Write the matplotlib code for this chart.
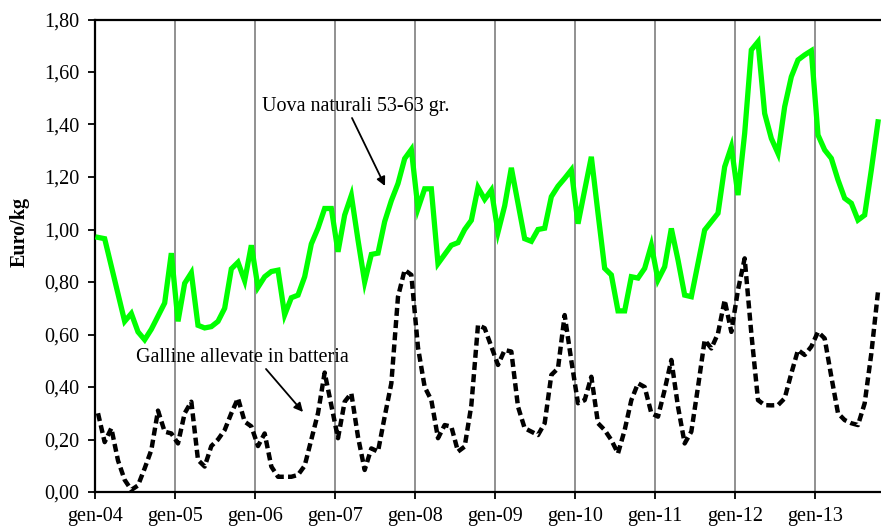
import matplotlib
matplotlib.use("Agg")
import matplotlib.pyplot as plt
from matplotlib.ticker import FuncFormatter

plt.rcParams['font.family'] = ['Liberation Serif', 'DejaVu Serif']

tick_labels = ["gen-04", "gen-05", "gen-06", "gen-07", "gen-08",
               "gen-09", "gen-10", "gen-11", "gen-12", "gen-13"]

uova = [
    0.97, 0.965, 0.86, 0.755, 0.65, 0.68, 0.61, 0.58, 0.62, 0.67, 0.72, 0.91,
    0.65, 0.795, 0.835, 0.635, 0.625, 0.63, 0.65, 0.70, 0.85, 0.875, 0.805, 0.94,
    0.78, 0.82, 0.84, 0.845, 0.675, 0.74, 0.75, 0.82, 0.945, 1.005, 1.08, 1.08,
    0.915, 1.055, 1.13, 0.96, 0.80, 0.905, 0.91, 1.03, 1.11, 1.175, 1.27, 1.305,
    1.08, 1.155, 1.155, 0.87, 0.905, 0.94, 0.95, 1.0, 1.035, 1.16, 1.115, 1.15,
    0.99, 1.09, 1.235, 1.10, 0.965, 0.955, 1.0, 1.005, 1.125, 1.165, 1.195, 1.227,
    1.022, 1.15, 1.277, 1.062, 0.852, 0.827, 0.69, 0.69, 0.82, 0.815, 0.852, 0.94,
    0.808, 0.858, 1.004, 0.884, 0.75, 0.744, 0.871, 0.998, 1.03, 1.062, 1.239, 1.315,
    1.131, 1.366, 1.684, 1.715, 1.442, 1.347, 1.29, 1.468, 1.582, 1.646, 1.665, 1.681,
    1.36, 1.303, 1.271, 1.189, 1.119, 1.10, 1.036, 1.055, 1.227, 1.41,
]

galline = [
    0.30, 0.19, 0.243, 0.12, 0.046, 0.008, 0.025, 0.09, 0.16, 0.31, 0.23, 0.223,
    0.185, 0.30, 0.344, 0.122, 0.097, 0.175, 0.20, 0.236, 0.30, 0.357, 0.268, 0.25,
    0.175, 0.223, 0.097, 0.058, 0.058, 0.058, 0.065, 0.10, 0.20, 0.30, 0.455, 0.33,
    0.205, 0.344, 0.376, 0.21, 0.084, 0.166, 0.154, 0.287, 0.414, 0.744, 0.846, 0.827,
    0.55, 0.40, 0.35, 0.205, 0.255, 0.249, 0.154, 0.173, 0.33, 0.636, 0.624, 0.554,
    0.484, 0.541, 0.535, 0.325, 0.243, 0.23, 0.217, 0.262, 0.446, 0.471, 0.674, 0.50,
    0.338, 0.35, 0.439, 0.262, 0.236, 0.198, 0.147, 0.236, 0.35, 0.414, 0.40, 0.30,
    0.287, 0.389, 0.503, 0.325, 0.185, 0.23, 0.40, 0.579, 0.547, 0.604, 0.731, 0.61,
    0.77, 0.89, 0.604, 0.35, 0.331, 0.33, 0.331, 0.357, 0.452, 0.541, 0.522, 0.554,
    0.61, 0.585, 0.439, 0.30, 0.274, 0.262, 0.255, 0.338, 0.528, 0.763,
]

W, H = 881, 526
fig = plt.figure(figsize=(W / 100, H / 100), dpi=100)
ax = fig.add_axes([95 / W, 1 - 492 / H, 786 / W, (492 - 19.5) / H])

x = [i + 0.45 for i in range(len(uova))]
ax.plot(x, uova, color='#00FF00', lw=3.8, solid_joinstyle='miter', zorder=3)
ax.plot(x, galline, color='black', lw=3.2, linestyle=(0, (1.8, 0.95)),
        dash_capstyle='butt', zorder=3)

ax.set_xlim(0, 786 / (80 / 12))
ax.set_ylim(0, 1.8)

xt = [12 * k for k in range(len(tick_labels))]
ax.set_xticks(xt)
ax.set_xticklabels(tick_labels)
for v in xt[1:]:
    ax.axvline(v, color='#888888', lw=1.3, zorder=1)

ax.set_yticks([0.2 * k for k in range(10)])
ax.yaxis.set_major_formatter(FuncFormatter(lambda v, p: f"{v:.2f}".replace('.', ',')))

ax.tick_params(axis='both', direction='out', length=5, width=1.3, labelsize=14.5,
               colors='black')
ax.tick_params(axis='x', pad=6)
ax.tick_params(axis='y', pad=6)

for s in ['left', 'bottom', 'top']:
    ax.spines[s].set_linewidth(1.6)
    ax.spines[s].set_color('black')
ax.spines['right'].set_visible(False)

def px(xp, yp):
    return ((xp - 95) / (80 / 12), (492 - yp) / 262.5)

tx, ty = px(356, 107)
ax.text(tx, ty, "Uova naturali 53-63 gr.", fontsize=14.5, ha='center', va='center')
ax.annotate('', xy=px(385, 186), xytext=px(352, 118),
            arrowprops=dict(arrowstyle='-|>', color='black', lw=1.3,
                            mutation_scale=13, shrinkA=0, shrinkB=0))

tx, ty = px(242, 357)
ax.text(tx, ty, "Galline allevate in batteria", fontsize=14.5, ha='center', va='center')
ax.annotate('', xy=px(303, 412), xytext=px(266, 369),
            arrowprops=dict(arrowstyle='-|>', color='black', lw=1.3,
                            mutation_scale=13, shrinkA=0, shrinkB=0))

fig.text(20 / W, 1 - 232 / H, "Euro/kg", rotation=90, fontsize=14.5,
         fontweight='bold', ha='center', va='center')

fig.savefig("out.png", dpi=100)
